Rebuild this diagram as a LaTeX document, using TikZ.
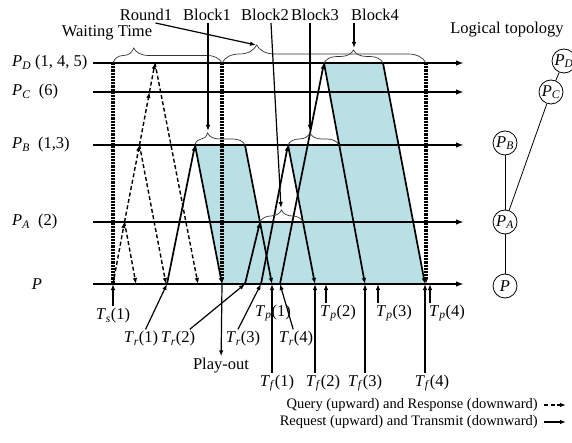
\documentclass[tikz,border=0pt]{standalone}
\usepackage{fontspec}
\setmainfont{Liberation Serif}
\usetikzlibrary{arrows.meta, decorations.pathreplacing}

\newcommand{\Pn}[1]{\textit{P}\textsubscript{\textit{#1}}}
\newcommand{\Tn}[2]{\textit{T}\textsubscript{\textit{#1}}(#2)}
\definecolor{blockfill}{RGB}{185,224,228}

\begin{document}
\begin{tikzpicture}[x=1pt, y=-1pt, >={Latex[length=6pt,width=4.5pt]},
      font=\fontsize{16.5}{19}\selectfont, inner sep=2pt,
      tline/.style={line width=1.9pt, -{Latex[length=8pt,width=5.5pt]}},
      qry/.style={line width=1.4pt, dash pattern=on 4pt off 2.5pt, ->},
      req/.style={line width=1.7pt, ->},
      ptr/.style={line width=1.2pt, ->},
      wait/.style={line width=3.2pt, dash pattern=on 2.2pt off 1pt},
      brc/.style={decorate, decoration={brace, amplitude=#1}, line width=0.7pt, black!80},
      tnode/.style={draw, circle, minimum size=24pt, inner sep=0pt, line width=0.8pt},
      small/.style={font=\fontsize{14.5}{16}\selectfont}]

    \useasboundingbox (0,0) rectangle (572,443);

    % y of the five timelines
    \def\yD{63} \def\yC{92} \def\yB{145} \def\yA{222} \def\yP{284}

    % block corners: a/b on the sender line, c/d on P
    \coordinate (b1a) at (195,\yB); \coordinate (b1b) at (245,\yB);
    \coordinate (b1c) at (272,\yP); \coordinate (b1d) at (222,\yP);
    \coordinate (b2a) at (260,\yA); \coordinate (b2b) at (303,\yA);
    \coordinate (b2c) at (315,\yP);
    \coordinate (b3a) at (288,\yB); \coordinate (b3b) at (339,\yB);
    \coordinate (b3c) at (365,\yP);
    \coordinate (b4a) at (324,\yD); \coordinate (b4b) at (383,\yD);
    \coordinate (b4c) at (425,\yP);

    \fill[blockfill] (b1a) -- (b1b) -- (b1c) -- (b1d) -- cycle;
    \fill[blockfill] (b2a) -- (b2b) -- (b2c) -- (b1c) -- cycle;
    \fill[blockfill] (b3a) -- (b3b) -- (b3c) -- (b2c) -- cycle;
    \fill[blockfill] (b4a) -- (b4b) -- (b4c) -- (b3c) -- cycle;

    % timelines
    \node[anchor=west] (lD) at (10,\yD) {\Pn{D} (1, 4, 5)};
    \node[anchor=west] (lC) at (10,\yC) {\Pn{C}\ \ (6)};
    \node[anchor=west] (lB) at (10,\yB) {\Pn{B}\ \ (1,3)};
    \node[anchor=west] (lA) at (10,\yA) {\Pn{A}\ \ (2)};
    \node (lP) at (37,\yP) {\textit{P}};
    \foreach \n/\y in {D/\yD, C/\yC, B/\yB, A/\yA, P/\yP} {
      \coordinate (\n0) at (93,\y);
      \coordinate (\n1) at (464,\y);
      \draw[tline] (\n0) -- (\n1);
    }

    % waiting time (thick dotted)
    \coordinate (w1t) at (113,\yD); \coordinate (q0) at (113,\yP);
    \coordinate (w2t) at (222,\yD);
    \coordinate (w3t) at (426,\yD); \coordinate (w3b) at (426,\yP);
    \draw[wait] (w1t) -- (q0);
    \draw[wait, ->] (w2t) -- (b1d);
    \draw[wait, ->] (w3t) -- (w3b);

    % query up, response down
    \coordinate (qA) at (124.5,\yA); \coordinate (qB) at (139.5,\yB);
    \coordinate (qC) at (149.5,\yC); \coordinate (qD) at (155,\yD);
    \coordinate (rA) at (136,\yP); \coordinate (rB) at (166,\yP);
    \coordinate (rD) at (198,\yP);
    \draw[qry] (q0) -- (qA);
    \draw[qry] (qA) -- (qB);
    \draw[qry] (qB) -- (qC);
    \draw[qry] (qC) -- (qD);
    \draw[qry] (qA) -- (rA);
    \draw[qry] (qB) -- (rB);
    \draw[qry] (qD) -- (rD);

    % request up, transmit down
    \coordinate (k1) at (167,\yP); \coordinate (k2) at (245,\yP);
    \coordinate (k3) at (261,\yP); \coordinate (k4) at (280,\yP);
    \draw[req] (k1) -- (b1a);
    \draw[req] (k2) -- (b2a);
    \draw[req] (k3) -- (b3a);
    \draw[req] (k4) -- (b4a);
    \draw[req] (b1a) -- (b1d);
    \draw[req] (b1b) -- (b1c);
    \draw[req] (b3a) -- (b2c);
    \draw[req] (b4a) -- (b3c);
    \draw[req] (b4b) -- (b4c);

    % braces
    \draw[brc=15, decoration={aspect=0.19}] (w1t) -- (w2t);
    \draw[brc=18, decoration={aspect=0.17}] (w2t) -- (w3t);
    \draw[brc=12, decoration={aspect=0.25}] (b1a) -- (b1b);
    \draw[brc=12, decoration={aspect=0.5}]  (b2a) -- (b2b);
    \draw[brc=12, decoration={aspect=0.43}] (b3a) -- (b3b);
    \draw[brc=13, decoration={aspect=0.5}]  (b4a) -- (b4b);

    % labels on top and their pointers
    \node (rnd) at (146,15) {Round1};
    \node (bk1) at (207,15) {Block1};
    \node (bk2) at (265,15) {Block2};
    \node (bk3) at (315,15) {Block3};
    \node (bk4) at (375,15) {Block4};
    \node (wt)  at (107,33) {Waiting Time};
    \coordinate (tipR) at (256,45);
    \coordinate (tip1) at (208,131);
    \coordinate (tip2) at (281,208);
    \coordinate (tip3) at (310,131);
    \coordinate (tip4) at (354,48);
    \draw[ptr] (rnd.-40) -- (tipR);
    \draw[ptr] (bk1.south -| tip1) -- (tip1);
    \draw[ptr] ([xshift=6pt]bk2.south) -- (tip2);
    \draw[ptr] (bk3.south -| tip3) -- (tip3);
    \draw[ptr] (bk4.south -| tip4) -- (tip4);

    % time marks under P
    \node (ts1) at (113,316) {\Tn{s}{1}};
    \node (tr1) at (141,339) {\Tn{r}{1}};
    \node (tr2) at (178,339) {\Tn{r}{2}};
    \node (tr3) at (243,339) {\Tn{r}{3}};
    \node (tr4) at (296,339) {\Tn{r}{4}};
    \draw[ptr] (ts1) -- (q0);
    \draw[ptr] (tr1) -- (k1);
    \draw[ptr] (tr2) -- (k2);
    \draw[ptr] ([xshift=-5pt]tr3.north) -- (k3);
    \draw[ptr] (tr4) -- (k4);

    \node (play) at (221,366) {Play-out};
    \draw[ptr] (b1d) -- (play);

    \node (tp1) at (273,313) {\Tn{p}{1}};
    \node (tp2) at (338,313) {\Tn{p}{2}};
    \node (tp3) at (394,313) {\Tn{p}{3}};
    \node (tp4) at (447,313) {\Tn{p}{4}};
    \coordinate (p2) at (326,\yP); \coordinate (p3) at (378,\yP);
    \coordinate (p4) at (430,\yP);
    \draw[ptr] (tp2.north -| p2) -- (p2);
    \draw[ptr] (tp3.north -| p3) -- (p3);
    \draw[ptr] (tp4.north -| p4) -- (p4);

    \node (tf1) at (277,383) {\Tn{f}{1}};
    \node (tf2) at (323,383) {\Tn{f}{2}};
    \node (tf3) at (365,383) {\Tn{f}{3}};
    \node (tf4) at (432,383) {\Tn{f}{4}};
    \draw[ptr] (tf1.north -| b1c) -- (b1c);
    \draw[ptr] (tf2.north -| b2c) -- (b2c);
    \draw[ptr] (tf3.north -| b3c) -- (b3c);
    \draw[ptr] (tf4.north -| b4c) -- (b4c);

    % logical topology
    \node (ltop) at (507,30) {Logical topology};
    \node[tnode] (tP) at (505,286) {\textit{P}};
    \node[tnode] (tA) at (505,222) {\Pn{A}};
    \node[tnode] (tB) at (505,143) {\Pn{B}};
    \node[tnode] (tC) at (551,92)  {\Pn{C}};
    \node[tnode] (tD) at (564,61)  {\Pn{D}};
    \draw[line width=0.8pt] (tP) -- (tA) -- (tB);
    \draw[line width=0.8pt] (tA) -- (tC) -- (tD);

    % legend
    \node[small, anchor=east] (lq) at (540,405) {Query (upward) and Response (downward)};
    \node[small, anchor=east] (lr) at (540,422) {Request (upward) and Transmit (downward)};
    \coordinate (lq1) at (566,405); \coordinate (lr1) at (566,422);
    \draw[qry] ([xshift=4pt]lq.east) -- (lq1);
    \draw[req] ([xshift=4pt]lr.east) -- (lr1);

\end{tikzpicture}
\end{document}
